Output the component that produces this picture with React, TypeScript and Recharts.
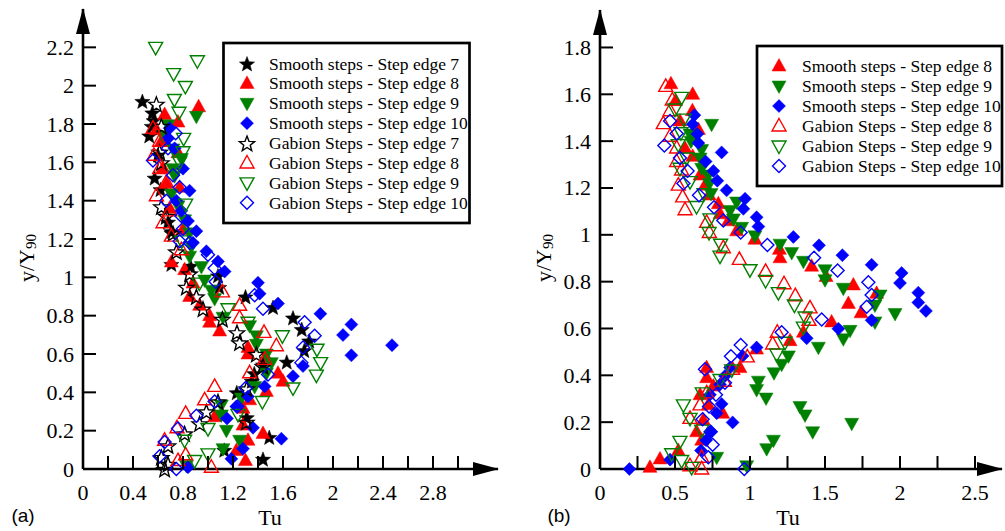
import React from "react";
import { ScatterChart, Scatter, XAxis, YAxis } from "recharts";

// ---- panel (a) data: [Tu, y/Y90]
const aSmooth7 = [
  [0.475, 1.92], [0.555, 1.86], [0.565, 1.82], [0.55, 1.79], [0.53, 1.74], [0.6, 1.64], [0.573, 1.52],
  [0.62, 1.46], [0.68, 1.29], [0.707, 1.24], [0.707, 1.07], [0.86, 1.06], [1.08, 1.01], [1.09, 0.95],
  [1.3, 0.9], [1.52, 0.845], [1.68, 0.79], [1.75, 0.73], [1.81, 0.67], [1.77, 0.62], [1.63, 0.56],
  [1.44, 0.545], [1.37, 0.5], [1.35, 0.46], [1.23, 0.4], [1.31, 0.27], [1.49, 0.167], [1.44, 0.053], [1.13, 0.1],
];
const aSmooth8 = [
  [0.653, 1.85], [0.76, 1.81], [0.925, 1.89], [0.587, 1.77], [0.627, 1.71], [0.76, 1.65], [0.64, 1.57],
  [0.667, 1.49], [0.773, 1.47], [0.693, 1.36], [0.8, 1.25], [0.707, 1.08], [0.813, 1.04], [0.88, 0.97],
  [0.853, 0.9], [0.933, 0.854], [1.013, 0.8], [1.013, 0.766], [1.093, 0.72], [1.32, 0.6], [1.32, 0.634],
  [1.467, 0.58], [1.56, 0.5], [1.6, 0.458], [1.467, 0.405], [1.333, 0.361], [1.28, 0.317], [1.053, 0.273],
  [1.28, 0.229], [1.44, 0.185], [1.32, 0.15], [1.227, 0.097], [1.3, 0.044],
];
const aSmooth9 = [
  [0.907, 1.84], [0.68, 1.796], [0.64, 1.74], [0.72, 1.67], [0.787, 1.62], [0.72, 1.567], [0.733, 1.53],
  [0.707, 1.435], [0.76, 1.373], [0.813, 1.3], [0.853, 1.232], [0.867, 1.162], [0.853, 1.11], [0.947, 1.056],
  [0.973, 0.986], [1.027, 0.933], [1.053, 0.889], [1.12, 0.792], [1.333, 0.748], [1.387, 0.695], [1.387, 0.651],
  [1.467, 0.6], [1.507, 0.555], [1.467, 0.5], [1.373, 0.43], [1.267, 0.37], [1.107, 0.334], [1.107, 0.282],
  [1.147, 0.202], [1.253, 0.15], [1.12, 0.106], [0.827, 0.018],
];
const aSmooth10 = [
  [0.693, 1.778], [0.68, 1.725], [0.733, 1.673], [0.8, 1.567], [0.853, 1.452], [0.747, 1.4], [0.787, 1.347],
  [0.84, 1.294], [0.907, 1.241], [0.88, 1.18], [0.987, 1.136], [1.08, 1.083], [1.133, 1.03], [1.4, 0.972],
  [1.413, 0.915], [1.56, 0.863], [1.899, 0.81], [2.147, 0.754], [2.08, 0.699], [2.472, 0.646], [2.147, 0.593],
  [1.76, 0.537], [1.68, 0.484], [1.453, 0.431], [1.32, 0.378], [1.227, 0.326], [1.152, 0.264], [1.36, 0.215],
  [1.587, 0.158], [1.28, 0.106], [1.187, 0.053], [0.84, 0.009],
];
const aGabion7 = [
  [0.587, 1.905], [0.627, 1.79], [0.613, 1.655], [0.627, 1.6], [0.627, 1.37], [0.667, 1.32], [0.72, 1.23],
  [0.747, 1.135], [0.827, 0.95], [0.853, 1.02], [0.907, 0.9], [0.96, 0.836], [1.115, 0.783], [1.232, 0.713],
  [1.253, 0.66], [1.387, 0.6], [1.44, 0.537], [1.31, 0.42], [1.08, 0.352], [0.987, 0.3], [0.933, 0.238],
  [0.813, 0.185], [0.68, 0.123], [0.627, 0.062], [0.653, 0.0], [0.68, 0.026], [1.307, 0.246],
];
const aGabion8 = [
  [0.56, 1.778], [0.613, 1.71], [0.568, 1.637], [0.613, 1.567], [0.667, 1.496], [0.587, 1.426], [0.693, 1.347],
  [0.64, 1.285], [0.707, 1.215], [0.787, 1.144], [1.115, 0.924], [1.253, 0.854], [1.253, 0.789], [1.448, 0.713],
  [1.547, 0.643], [1.453, 0.572], [1.333, 0.502], [1.053, 0.431], [0.973, 0.361], [0.821, 0.29], [0.752, 0.215],
  [0.653, 0.15], [0.821, 0.074], [0.76, 0.044], [1.027, 0.009],
];
const aGabion9 = [
  [0.581, 2.2], [0.915, 2.13], [0.725, 2.063], [0.819, 1.996], [0.731, 1.928], [0.768, 1.861], [0.805, 1.725],
  [0.8, 1.655], [0.773, 1.602], [0.821, 1.382], [0.79, 1.19], [0.93, 0.97], [1.16, 0.836], [1.32, 0.766],
  [1.595, 0.695], [1.872, 0.625], [1.901, 0.555], [1.867, 0.49], [1.68, 0.423], [1.435, 0.352], [1.24, 0.285],
  [1.0, 0.211], [0.813, 0.15], [1.0, 0.079], [0.893, 0.044],
];
const aGabion10 = [
  [0.56, 1.61], [0.741, 1.752], [0.68, 1.673], [0.72, 1.532], [0.773, 1.47], [0.667, 1.4], [0.787, 1.32],
  [0.8, 1.254], [0.773, 1.188], [0.853, 1.18], [1.0, 1.118], [1.053, 1.048], [1.061, 0.977], [1.373, 0.907],
  [1.44, 0.836], [1.773, 0.766], [1.853, 0.695], [1.76, 0.634], [1.747, 0.555], [1.48, 0.493], [1.301, 0.423],
  [1.235, 0.326], [1.053, 0.352], [0.907, 0.278], [0.76, 0.211], [0.653, 0.141], [0.613, 0.067], [0.747, 0.0],
];

// ---- panel (b) data
const bSmooth8 = [
  [0.473, 1.645], [0.618, 1.6], [0.504, 1.573], [0.616, 1.53], [0.533, 1.486], [0.656, 1.45], [0.567, 1.37],
  [0.618, 1.335], [0.667, 1.255], [0.7, 1.212], [0.727, 1.17], [0.789, 1.133], [0.8, 1.09], [0.856, 1.06],
  [0.911, 1.017], [1.033, 0.981], [1.196, 0.938], [1.2, 0.902], [1.411, 0.866], [1.507, 0.822], [1.689, 0.786],
  [1.656, 0.707], [1.74, 0.667], [1.844, 0.75], [1.544, 0.628], [1.356, 0.584], [1.267, 0.548], [1.044, 0.512],
  [0.933, 0.433], [0.711, 0.433], [0.711, 0.39], [0.756, 0.354], [0.667, 0.317], [0.722, 0.274], [0.818, 0.238],
  [0.689, 0.209], [0.644, 0.159], [0.678, 0.123], [0.522, 0.079], [0.4, 0.043], [0.333, 0.007],
];
const bSmooth9 = [
  [0.6, 1.43], [0.607, 1.4], [0.678, 1.364], [0.744, 1.472], [0.667, 1.328], [0.678, 1.284], [0.722, 1.255],
  [0.729, 1.219], [0.74, 1.176], [0.867, 1.104], [0.911, 1.14], [0.889, 1.068], [0.944, 1.032], [1.033, 0.996],
  [1.2, 0.96], [1.278, 0.924], [1.356, 0.887], [1.5, 0.851], [1.5, 0.808], [1.622, 0.772], [1.967, 0.664],
  [1.867, 0.743], [1.833, 0.7], [1.833, 0.628], [1.667, 0.592], [1.622, 0.556], [1.456, 0.52], [1.256, 0.483],
  [1.211, 0.447], [1.16, 0.411], [1.056, 0.375], [1.044, 0.339], [1.107, 0.303], [1.333, 0.267], [1.367, 0.231],
  [1.418, 0.159], [1.678, 0.195], [1.156, 0.123], [1.111, 0.087], [0.778, 0.05], [0.978, 0.014],
];
const bSmooth10 = [
  [0.629, 1.511], [0.618, 1.472], [0.649, 1.431], [0.656, 1.392], [0.704, 1.313], [0.756, 1.273], [0.782, 1.231],
  [0.811, 1.352], [0.844, 1.19], [0.967, 1.154], [0.956, 1.111], [1.044, 1.075], [1.056, 1.035], [1.289, 0.991],
  [1.46, 0.955], [1.616, 0.913], [1.811, 0.872], [2.011, 0.837], [2.0, 0.794], [2.122, 0.753], [2.122, 0.711],
  [2.173, 0.675], [1.811, 0.635], [1.589, 0.599], [1.378, 0.558], [1.044, 0.519], [0.951, 0.483], [0.867, 0.433],
  [0.833, 0.397], [0.8, 0.361], [0.733, 0.317], [0.811, 0.278], [0.778, 0.238], [0.884, 0.199], [0.738, 0.159],
  [0.707, 0.123], [0.673, 0.079], [0.467, 0.04], [0.196, 0.0],
];
const bGabion8 = [
  [0.438, 1.634], [0.482, 1.576], [0.467, 1.53], [0.422, 1.475], [0.467, 1.421], [0.511, 1.371], [0.511, 1.313],
  [0.544, 1.277], [0.522, 1.212], [0.551, 1.162], [0.567, 1.107], [0.711, 1.053], [0.729, 1.01], [0.822, 0.945],
  [0.929, 0.895], [1.104, 0.844], [1.227, 0.791], [1.302, 0.74], [1.4, 0.688], [1.393, 0.635], [1.182, 0.584],
  [1.151, 0.534], [0.982, 0.479], [0.884, 0.426], [0.829, 0.375], [0.711, 0.325], [0.667, 0.274], [0.6, 0.216],
  [0.678, 0.05], [0.6, 0.014], [0.678, 0.0],
];
const bGabion9 = [
  [0.544, 1.587], [0.5, 1.537], [0.56, 1.494], [0.54, 1.436], [0.522, 1.385], [0.578, 1.328], [0.533, 1.284],
  [0.6, 1.227], [0.693, 1.176], [0.644, 1.121], [0.733, 1.068], [0.727, 1.01], [0.804, 0.96], [0.8, 0.909],
  [1.0, 0.851], [1.104, 0.805], [1.189, 0.753], [1.296, 0.7], [1.367, 0.649], [1.356, 0.606], [1.233, 0.541],
  [1.178, 0.491], [0.878, 0.423], [0.8, 0.382], [0.682, 0.325], [0.556, 0.274], [0.6, 0.216], [0.678, 0.166],
  [0.533, 0.118], [0.478, 0.065], [0.544, 0.036], [0.611, 0.007],
];
const bGabion10 = [
  [0.429, 1.381], [0.467, 1.486], [0.511, 1.433], [0.533, 1.328], [0.584, 1.273], [0.556, 1.219], [0.66, 1.169],
  [0.76, 1.118], [0.822, 1.061], [0.938, 1.01], [1.116, 0.957], [1.427, 0.902], [1.584, 0.848], [1.789, 0.797],
  [1.811, 0.743], [1.778, 0.693], [1.478, 0.638], [1.211, 0.584], [0.938, 0.53], [0.873, 0.481], [0.7, 0.426],
  [0.833, 0.368], [0.773, 0.317], [0.727, 0.267], [0.684, 0.212], [0.738, 0.159], [0.751, 0.104], [0.722, 0.05],
  [0.962, 0.0],
];

// ---- ticks
const aXTicks = [0, 0.2, 0.4, 0.6, 0.8, 1, 1.2, 1.4, 1.6, 1.8, 2, 2.2, 2.4, 2.6, 2.8, 3];
const aXLabels = ["0", "0.4", "0.8", "1.2", "1.6", "2", "2.4", "2.8"];
const aYTicks = [0, 0.2, 0.4, 0.6, 0.8, 1, 1.2, 1.4, 1.6, 1.8, 2, 2.2];
const bXTicks = [0, 0.25, 0.5, 0.75, 1, 1.25, 1.5, 1.75, 2, 2.25, 2.5];
const bXLabels = ["0", "0.5", "1", "1.5", "2", "2.5"];
const bYTicks = [0, 0.2, 0.4, 0.6, 0.8, 1, 1.2, 1.4, 1.6, 1.8];

const RED = "#ff0000";
const GREEN = "#008000";
const BLUE = "#0000ff";
const SERIF = "Liberation Serif, DejaVu Serif, serif";
const SANS = "Liberation Sans, Arial, sans-serif";

type Kind = "star" | "up" | "down" | "diamond";
type SeriesDef = { name: string; data: number[][]; kind: Kind; color: string; filled: boolean };

const aSeries: SeriesDef[] = [
  { name: "Smooth steps - Step edge 7", data: aSmooth7, kind: "star", color: "#000", filled: true },
  { name: "Smooth steps - Step edge 8", data: aSmooth8, kind: "up", color: RED, filled: true },
  { name: "Smooth steps - Step edge 9", data: aSmooth9, kind: "down", color: GREEN, filled: true },
  { name: "Smooth steps - Step edge 10", data: aSmooth10, kind: "diamond", color: BLUE, filled: true },
  { name: "Gabion Steps - Step edge 7", data: aGabion7, kind: "star", color: "#000", filled: false },
  { name: "Gabion Steps - Step edge 8", data: aGabion8, kind: "up", color: RED, filled: false },
  { name: "Gabion Steps - Step edge 9", data: aGabion9, kind: "down", color: GREEN, filled: false },
  { name: "Gabion Steps - Step edge 10", data: aGabion10, kind: "diamond", color: BLUE, filled: false },
];

const bSeries: SeriesDef[] = [
  { name: "Smooth steps - Step edge 8", data: bSmooth8, kind: "up", color: RED, filled: true },
  { name: "Smooth steps - Step edge 9", data: bSmooth9, kind: "down", color: GREEN, filled: true },
  { name: "Smooth steps - Step edge 10", data: bSmooth10, kind: "diamond", color: BLUE, filled: true },
  { name: "Gabion Steps - Step edge 8", data: bGabion8, kind: "up", color: RED, filled: false },
  { name: "Gabion Steps - Step edge 9", data: bGabion9, kind: "down", color: GREEN, filled: false },
  { name: "Gabion Steps - Step edge 10", data: bGabion10, kind: "diamond", color: BLUE, filled: false },
];

const toPoints = (arr: number[][]) => arr.map(([x, y]) => ({ x, y }));
const fmt = (v: number) => String(Number(v.toFixed(2)));

function markerPoints(kind: Kind, cx: number, cy: number) {
  if (kind === "up") return `${cx},${cy - 7.5} ${cx + 7},${cy + 5} ${cx - 7},${cy + 5}`;
  if (kind === "down") return `${cx},${cy + 7.5} ${cx + 7},${cy - 5} ${cx - 7},${cy - 5}`;
  if (kind === "diamond") return `${cx},${cy - 6.5} ${cx + 6.5},${cy} ${cx},${cy + 6.5} ${cx - 6.5},${cy}`;
  const pts: string[] = [];
  for (let i = 0; i < 10; i++) {
    const r = i % 2 === 0 ? 8 : 3.4;
    const a = ((-90 + i * 36) * Math.PI) / 180;
    pts.push(`${cx + r * Math.cos(a)},${cy + 1 + r * Math.sin(a)}`);
  }
  return pts.join(" ");
}

function Marker({ s, cx, cy }: { s: SeriesDef; cx: number; cy: number }) {
  return (
    <polygon
      points={markerPoints(s.kind, cx, cy)}
      fill={s.filled ? s.color : "none"}
      stroke={s.color}
      strokeWidth={s.filled ? 0.5 : 1.4}
      strokeLinejoin="miter"
    />
  );
}

const shapeFor = (s: SeriesDef) => (p: any) => <Marker s={s} cx={p.cx} cy={p.cy} />;

const serifText = { fontFamily: SERIF };

const xTick = (labels: string[]) => (props: any) => {
  const { x, y, payload } = props;
  const t = fmt(payload.value);
  return (
    <g>
      <line x1={x} x2={x} y1={y} y2={y - 13} stroke="#000" strokeWidth={2} />
      {labels.includes(t) && (
        <text x={x} y={y + 23} textAnchor="middle" dominantBaseline="central" style={serifText} fontSize={22} fill="#000">
          {t}
        </text>
      )}
    </g>
  );
};

const yTick = (props: any) => {
  const { x, y, payload } = props;
  return (
    <g>
      <line x1={x} x2={x + 13} y1={y} y2={y} stroke="#000" strokeWidth={2} />
      <text x={x - 9} y={y} textAnchor="end" dominantBaseline="central" style={serifText} fontSize={22} fill="#000">
        {fmt(payload.value)}
      </text>
    </g>
  );
};

const yLabel = (cx: number, cy: number) => () => (
  <text
    x={cx}
    y={cy}
    transform={`rotate(-90 ${cx} ${cy})`}
    textAnchor="middle"
    dominantBaseline="central"
    style={serifText}
    fontSize={22}
    fill="#000"
  >
    y/Y<tspan fontSize={15} dy={5}>90</tspan>
  </text>
);

const xLabel = (tuX: number, tag: string, tagX: number) => () => (
  <g>
    <text x={tuX} y={517} textAnchor="middle" dominantBaseline="central" style={serifText} fontSize={22} fill="#000">
      Tu
    </text>
    <text x={tagX} y={515} textAnchor="middle" dominantBaseline="central" style={{ fontFamily: SANS }} fontSize={19} fill="#000">
      {tag}
    </text>
  </g>
);

function ArrowDefs({ id }: { id: string }) {
  return (
    <defs>
      <marker id={id} markerUnits="userSpaceOnUse" markerWidth={26} markerHeight={14} refX={25} refY={7} orient="auto-start-reverse">
        <path d="M0,0 L26,7 L0,14 z" fill="#000" />
      </marker>
    </defs>
  );
}

function Panel(props: {
  series: SeriesDef[];
  width: number;
  yWidth: number;
  right: number;
  top: number;
  xMax: number;
  yMax: number;
  xTicks: number[];
  xLabels: string[];
  yTicks: number[];
  arrowId: string;
  ylab: [number, number];
  tuX: number;
  tag: string;
  tagX: number;
}) {
  const p = props;
  return (
    <ScatterChart width={p.width} height={531} margin={{ top: p.top, right: p.right, bottom: 0, left: 0 }}>
      <ArrowDefs id={p.arrowId} />
      <XAxis
        type="number"
        dataKey="x"
        domain={[0, p.xMax]}
        ticks={p.xTicks}
        interval={0}
        height={62}
        tickSize={0}
        tickMargin={0}
        tickLine={false}
        tick={xTick(p.xLabels)}
        axisLine={{ stroke: "#000", strokeWidth: 2.6, markerEnd: `url(#${p.arrowId})` }}
        label={xLabel(p.tuX, p.tag, p.tagX)}
      />
      <YAxis
        type="number"
        dataKey="y"
        domain={[0, p.yMax]}
        ticks={p.yTicks}
        interval={0}
        width={p.yWidth}
        tickSize={0}
        tickMargin={0}
        tickLine={false}
        tick={yTick}
        axisLine={{ stroke: "#000", strokeWidth: 2.6, markerStart: `url(#${p.arrowId})` }}
        label={yLabel(p.ylab[0], p.ylab[1])}
      />
      {p.series.map((s) => (
        <Scatter key={s.name} name={s.name} data={toPoints(s.data)} shape={shapeFor(s)} isAnimationActive={false} />
      ))}
    </ScatterChart>
  );
}

function LegendBox({ series, x, y, w, h, row0, step, mx, tx }: {
  series: SeriesDef[]; x: number; y: number; w: number; h: number; row0: number; step: number; mx: number; tx: number;
}) {
  return (
    <g>
      <rect x={x} y={y} width={w} height={h} fill="#fff" stroke="#000" strokeWidth={2.7} />
      {series.map((s, i) => (
        <g key={s.name}>
          <Marker s={s} cx={mx} cy={row0 + i * step} />
          <text x={tx} y={row0 + i * step} dominantBaseline="central" style={serifText} fontSize={17.5} fill="#000">
            {s.name}
          </text>
        </g>
      ))}
    </g>
  );
}

export default function App() {
  return (
    <div style={{ position: "absolute", left: 0, top: 0, width: 1005, height: 531, background: "#fff" }}>
      <div style={{ position: "absolute", left: 0, top: 0 }}>
        <Panel
          series={aSeries}
          width={500}
          yWidth={83}
          right={2}
          top={9}
          xMax={3.32}
          yMax={2.4}
          xTicks={aXTicks}
          xLabels={aXLabels}
          yTicks={aYTicks}
          arrowId="arrowA"
          ylab={[26, 258]}
          tuX={270}
          tag="(a)"
          tagX={23}
        />
      </div>
      <div style={{ position: "absolute", left: 500, top: 0 }}>
        <Panel
          series={bSeries}
          width={505}
          yWidth={100}
          right={3}
          top={10}
          xMax={2.68}
          yMax={1.96}
          xTicks={bXTicks}
          xLabels={bXLabels}
          yTicks={bYTicks}
          arrowId="arrowB"
          ylab={[43, 258]}
          tuX={288}
          tag="(b)"
          tagX={59}
        />
      </div>
      <svg width={1005} height={531} style={{ position: "absolute", left: 0, top: 0, pointerEvents: "none" }}>
        <LegendBox series={aSeries} x={223.5} y={43} w={246} h={180} row0={63.5} step={19.9} mx={247} tx={269} />
        <LegendBox series={bSeries} x={757} y={46} w={245} h={140} row0={66} step={20} mx={779} tx={802} />
      </svg>
    </div>
  );
}
